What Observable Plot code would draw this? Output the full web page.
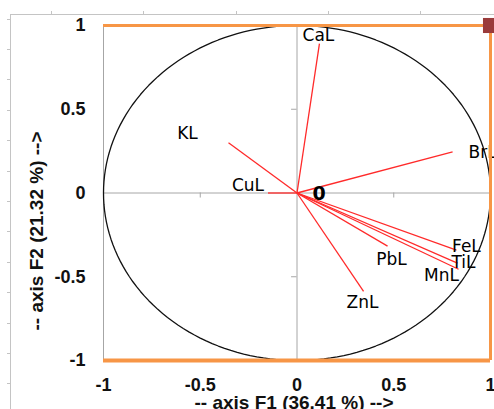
<!DOCTYPE html>
<html><head><meta charset="utf-8">
<script src="https://cdn.jsdelivr.net/npm/d3@7"></script>
<script src="https://cdn.jsdelivr.net/npm/@observablehq/plot@0.6"></script>
<style>
html,body{margin:0;padding:0;background:#fff;overflow:hidden}
#wrap{position:relative;width:494px;height:409px;overflow:hidden}
#wrap svg{position:absolute;left:0;top:0;overflow:visible}
.gl{position:absolute;left:7px;top:14px;width:3px;height:395px;border-right:1px solid #c4c4c4;
  background:repeating-linear-gradient(to bottom, transparent 0 4.6px, #c4c4c4 4.6px 5.6px, transparent 5.6px 30.4px)}
.gt{position:absolute;left:10px;top:11px;width:484px;height:3px;border-bottom:1px solid #c4c4c4;
  background:repeating-linear-gradient(to right, transparent 0 41px, #c4c4c4 41px 42px, transparent 42px 92.3px)}
</style>
</head><body>
<div id="wrap"><div class="gl"></div><div class="gt"></div></div>
<script>
// Data
const variables = ["CaL","KL","BrL","CuL","FeL","TiL","MnL","PbL","ZnL"];
const f1 = [0.116,-0.354,0.804,-0.150,0.824,0.829,0.835,0.468,0.344];
const f2 = [0.892,0.300,0.246,0.000,-0.341,-0.419,-0.455,-0.317,-0.587];
const xTicks = [-1,-0.5,0,0.5,1];
const yTicks = [-1,-0.5,0,0.5,1];
const xTitle = "-- axis F1 (36.41 %) -->";
const yTitle = "-- axis F2 (21.32 %) -->";
const originLabel = "0";
const cornerPoint = [[1,1]];

// label offsets in pixels (styling)
const labelDx = [-1,-41,30,-20,10,6,-17,4,-1];
const labelDy = [-8,-9,1,-7,-4,-1,6,13,11];

const circle = d3.range(0, 361, 2).map(a => ({x: Math.cos(a*Math.PI/180), y: Math.sin(a*Math.PI/180)}));
const idx = variables.map((v,i)=>i);
const orange = "#f79646";
const grey = "#a6a6a6";
const red = "#ff2a2a";
const labelFont = "DejaVu Sans, Verdana, sans-serif";

const chart = Plot.plot({
  width: 494, height: 409,
  marginLeft: 103, marginRight: 4, marginTop: 25, marginBottom: 49,
  x: {domain: [-1, 1]},
  y: {domain: [-1, 1]},
  style: {fontFamily: "Liberation Sans, Arial, sans-serif", fontSize: "18px", fontWeight: "bold", color: "#111", background: "transparent"},
  marks: [
    Plot.ruleX([0], {stroke: grey, strokeWidth: 1}),
    Plot.ruleY([0], {stroke: grey, strokeWidth: 1}),
    Plot.ruleX([-1], {stroke: grey, strokeWidth: 1}),
    Plot.ruleX([-0.5, 0.5], {y1: 0, y2: -0.03, stroke: grey}),
    Plot.ruleY([-0.5, 0.5], {x1: 0, x2: -0.028, stroke: grey}),
    Plot.line(circle, {x: "x", y: "y", stroke: "#111", strokeWidth: 1.3}),
    Plot.link(idx, {x1: 0, y1: 0, x2: i => f1[i], y2: i => f2[i], stroke: red, strokeWidth: 1.3}),
    ...idx.map(i => Plot.text([i], {x: j => f1[j], y: j => f2[j], text: j => variables[j],
      dx: labelDx[i], dy: labelDy[i], fontFamily: labelFont, fontSize: 17, fontWeight: "normal", fill: "#000"})),
    Plot.text([originLabel], {x: 0, y: 0, text: d => d, dx: 22, dy: 1, fontFamily: labelFont, fontSize: 19, fontWeight: "bold", fill: "#000"}),
    Plot.ruleY([1], {stroke: orange, strokeWidth: 3}),
    Plot.ruleY([-1], {stroke: orange, strokeWidth: 4}),
    Plot.ruleX([1], {stroke: orange, strokeWidth: 3}),
    Plot.dot(cornerPoint, {x: d => d[0], y: d => d[1], symbol: "square", r: 8.5, fill: "#9a3b3b", stroke: "none"}),
    Plot.axisX({ticks: xTicks, tickSize: 0, tickPadding: 18, tickFormat: d => String(d), label: null}),
    Plot.axisY({ticks: yTicks, tickSize: 0, tickPadding: 18, tickFormat: d => String(d), label: null}),
    Plot.text([xTitle], {frameAnchor: "bottom", text: d => d, textAnchor: "middle", dx: -3, dy: 48, fontSize: 19, fontWeight: "bold", fill: "#111"}),
    Plot.text([yTitle], {frameAnchor: "left", text: d => d, textAnchor: "middle", lineAnchor: "middle", rotate: -90, dx: -67, dy: 38, fontSize: 19, fontWeight: "bold", fill: "#111"})
  ]
});
document.getElementById("wrap").appendChild(chart);
</script>
</body></html>
